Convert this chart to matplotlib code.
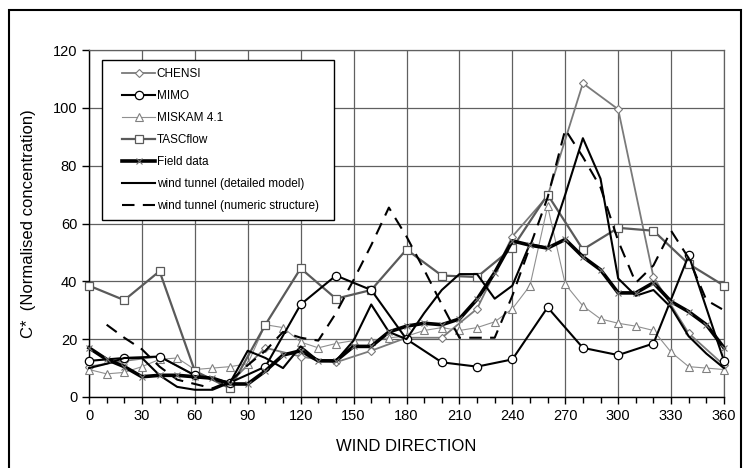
import numpy as np
import matplotlib
matplotlib.use('Agg')
import matplotlib.pyplot as plt
from matplotlib.patches import Rectangle

plt.rcParams['font.family'] = ['Liberation Sans', 'DejaVu Sans']

# wind directions
dir10 = np.arange(0, 361, 10)
dir20 = np.arange(0, 361, 20)

# series
chensi = [10.5, 12.5, 14, 7.5, 5, 17, 14, 12, 16, 20.5, 20.5, 30.5, 55.5, 69.5,
          108.5, 99.5, 41.5, 22, 11]
mimo = [12.5, 13.5, 14, 7.5, 5, 10.5, 32, 42, 37, 20, 12, 10.5, 13, 31, 17,
        14.5, 18.5, 49, 12.5]
miskam = [9.5, 8, 8.5, 10.5, 13, 13.5, 9.5, 10, 10.5, 11.5, 25, 24, 19, 17,
          18.5, 19.5, 19.5, 20.5, 21, 23, 24, 23, 24, 26, 30.5, 38.5, 66, 39,
          31.5, 27, 25.5, 24.5, 23, 15.5, 10.5, 10, 9.5]
tascflow = [38.5, 33.5, 43.5, 9, 3, 25, 44.5, 34, 37, 51, 42, 41.5, 51.5, 70,
            51, 58.5, 57.5, 46, 38.5]
field = [17, 13, 10.5, 7, 7.5, 7.5, 7, 6.5, 4.5, 4.5, 9, 14.5, 16, 12.5, 12.5,
         17.5, 17.5, 22.5, 24.5, 25.5, 25, 27, 33.8, 43, 54, 52.5, 51.5, 54.5,
         48.5, 44, 36, 36, 39.5, 33, 29.5, 25, 17]
tunnel_detail = [10, 11.5, 13.5, 13.5, 7.5, 3.5, 2.5, 2.5, 5, 16, 13.5, 10,
                 17.5, 12.5, 12.5, 19.5, 32, 22.5, 20, 29, 37, 42.5, 42.5, 34,
                 38.5, 53, 51.5, 70, 89.5, 75.5, 41, 35, 37, 31, 21, 15, 10]
tunnel_numeric = [np.nan, 25, 20.5, 16.5, 10.5, 6, 4.5, 3, 5.5, 11, 16, 22.5,
                  20.5, 19.5, 29, 40.5, 52.5, 65.5, 55.5, 44, 32, 20.5, 20.5,
                  20.5, 35, 52, 69, 92.5, 83, 72.5, 54, 39.5, 45.5, 57.5, 48,
                  33.5, 30]

W, H = 746, 468
fig = plt.figure(figsize=(W/100, H/100), dpi=100)
ax = fig.add_axes([89/W, 1-397/H, (724-89)/W, (397-50)/H])

gridc = '#606060'
ax.plot(dir20, chensi, '-', color='#7a7a7a', lw=1.3, marker='D', ms=4.5,
        mfc='white', mec='#7a7a7a', mew=0.8, label='CHENSI', clip_on=False, zorder=3)
ax.plot(dir20, mimo, '-', color='black', lw=1.5, marker='o', ms=6,
        mfc='white', mec='black', mew=0.9, label='MIMO', clip_on=False, zorder=4)
ax.plot(dir10, miskam, '-', color='#909090', lw=0.8, marker='^', ms=6,
        mfc='white', mec='#808080', mew=0.8, label='MISKAM 4.1', clip_on=False, zorder=3)
ax.plot(dir20, tascflow, '-', color='#5a5a5a', lw=1.6, marker='s', ms=5.5,
        mfc='white', mec='#5a5a5a', mew=0.9, label='TASCflow', clip_on=False, zorder=3)
ax.plot(dir10, field, '-', color='black', lw=2.6, marker='x', ms=4,
        mec='#707070', mew=0.8, label='Field data', clip_on=False, zorder=5)
ax.plot(dir10, tunnel_detail, '-', color='black', lw=1.5,
        label='wind tunnel (detailed model)', clip_on=False, zorder=4)
ax.plot(dir10, tunnel_numeric, '--', color='black', lw=1.5, dashes=(6, 4),
        label='wind tunnel (numeric structure)', clip_on=False, zorder=4)

ax.set_xlim(0, 360)
ax.set_ylim(0, 120)
ax.set_xticks(np.arange(0, 361, 30))
ax.set_xticks(np.arange(0, 361, 10), minor=True)
ax.set_yticks(np.arange(0, 121, 20))
ax.grid(True, which='major', color=gridc, lw=0.9)
ax.set_axisbelow(True)
ax.tick_params(axis='both', which='major', direction='out', length=5,
               width=1, labelsize=10.5, colors='black')
ax.tick_params(axis='x', which='minor', direction='out', length=4, width=1)
for s in ['top', 'right']:
    ax.spines[s].set_color(gridc)
    ax.spines[s].set_linewidth(0.9)
for s in ['left', 'bottom']:
    ax.spines[s].set_color('black')
    ax.spines[s].set_linewidth(1.0)

ax.set_xlabel('WIND DIRECTION', fontsize=12, labelpad=12)
ax.set_ylabel('C*  (Normalised concentration)', fontsize=12, labelpad=12)

# legend box drawn separately so its padding matches the original
box = Rectangle((102/W, 1-220/H), (334-102)/W, (220-60)/H, transform=fig.transFigure,
                facecolor='white', edgecolor='black', lw=1.0, zorder=6)
fig.patches.append(box)
leg = fig.legend(*ax.get_legend_handles_labels(), loc='upper left',
                 bbox_to_anchor=(122/W, 1-68/H), fontsize=8.5,
                 handlelength=2.8, handletextpad=0.15, labelspacing=0.85,
                 borderpad=0, borderaxespad=0, frameon=False)
leg.set_zorder(7)

fig.patches.append(Rectangle((9/W, -0.01), (741-9)/W, 1 - 10/H + 0.01,
                             transform=fig.transFigure, fill=False,
                             edgecolor='black', lw=1.5))

fig.savefig('out.png', dpi=100)
